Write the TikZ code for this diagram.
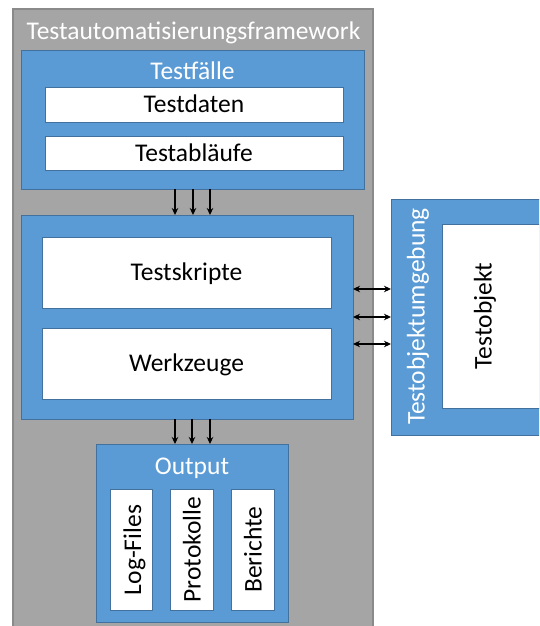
\documentclass[tikz,border=0pt]{standalone}
\usepackage{fontspec}
\setmainfont{Carlito}
\usetikzlibrary{arrows.meta}
\usepackage{xcolor}

\definecolor{grau}{HTML}{A5A5A5}
\definecolor{graurand}{HTML}{8A8A8A}
\definecolor{blau}{HTML}{5B9BD5}
\definecolor{blaurand}{HTML}{41719C}

\tikzset{
  box/.style={draw, anchor=north west, inner sep=0pt, outer sep=0pt},
  rahmen/.style={box, fill=grau, draw=graurand, line width=1.2pt},
  blaubox/.style={box, fill=blau, draw=blaurand, line width=0.9pt},
  weissbox/.style={box, fill=white, draw=blaurand, line width=0.9pt},
  schrift/.style={font=\fontsize{25.5}{30}\selectfont, text height=16.4pt, text depth=0pt, inner sep=0pt},
  titel/.style={schrift, text=white},
  txt/.style={schrift, text=black},
  pfeil/.style={-{Stealth[length=7pt,width=6.5pt]}, line width=1.3pt},
  doppelpfeil/.style={{Stealth[length=7pt,width=6.5pt]}-{Stealth[length=7pt,width=6.5pt]}, line width=1.3pt},
}

\begin{document}
\begin{tikzpicture}[x=1pt,y=1pt]
\def\H{626}
\useasboundingbox (0,0) rectangle (539,\H);
\clip (0,0) rectangle (539,\H);

% Rahmen
\node[rahmen, minimum width=360pt, minimum height=625pt] (fw) at (13,{\H-9}) {};
\node[titel] (fwtitel) at (193.5,{\H-31}) {Testautomatisierungsframework};

% Testfaelle
\node[blaubox, minimum width=343pt, minimum height=139pt] (tf) at (21,{\H-50}) {};
\node[titel] (tftitel) at (192.5,{\H-71.5}) {Testfälle};
\node[weissbox, minimum width=298pt, minimum height=35pt] (td) at (45,{\H-87}) {};
\node[txt] at (td) {Testdaten};
\node[weissbox, minimum width=298pt, minimum height=34pt] (ta) at (45,{\H-136}) {};
\node[txt] at (ta) {Testabläufe};

% Kern
\node[blaubox, minimum width=332pt, minimum height=204pt] (kern) at (21,{\H-215}) {};
\node[weissbox, minimum width=289pt, minimum height=71pt] (ts) at (42,{\H-237}) {};
\node[txt] at (ts) {Testskripte};
\node[weissbox, minimum width=289pt, minimum height=71pt] (wz) at (42,{\H-328}) {};
\node[txt] at (wz) {Werkzeuge};

% Testobjektumgebung
\node[blaubox, minimum width=220pt, minimum height=236pt] (env) at (391,{\H-199}) {};
\node[titel, rotate=90] (envtitel) at (416.5,{\H-316.5}) {Testobjektumgebung};
\node[weissbox, minimum width=180pt, minimum height=184pt] (obj) at (442,{\H-224}) {};
\node[txt, rotate=90] (objtext) at (483.5,{\H-316}) {Testobjekt};

% Output
\node[blaubox, minimum width=192pt, minimum height=178pt] (out) at (96,{\H-444}) {};
\node[titel] (outtitel) at (192,{\H-466.5}) {Output};
\node[weissbox, minimum width=42pt, minimum height=121pt] (lf) at (110,{\H-489}) {};
\node[txt, rotate=90] at (133,{\H-550}) {Log-Files};
\node[weissbox, minimum width=43pt, minimum height=121pt] (pk) at (170,{\H-489}) {};
\node[txt, rotate=90] at ([xshift=1pt]pk) {Protokolle};
\node[weissbox, minimum width=43pt, minimum height=121pt] (be) at (231,{\H-489}) {};
\node[txt, rotate=90] at ([xshift=1pt]be) {Berichte};

% Pfeile
\foreach \dx in {175,193,210}
  \draw[pfeil] (tf.south -| \dx,0) -- (kern.north -| \dx,0);
\foreach \dx in {175,192,210}
  \draw[pfeil] (kern.south -| \dx,0) -- (out.north -| \dx,0);
\foreach \dy in {289,317,344}
  \draw[doppelpfeil] (kern.east |- 0,{\H-\dy}) -- (env.west |- 0,{\H-\dy});
\end{tikzpicture}
\end{document}
